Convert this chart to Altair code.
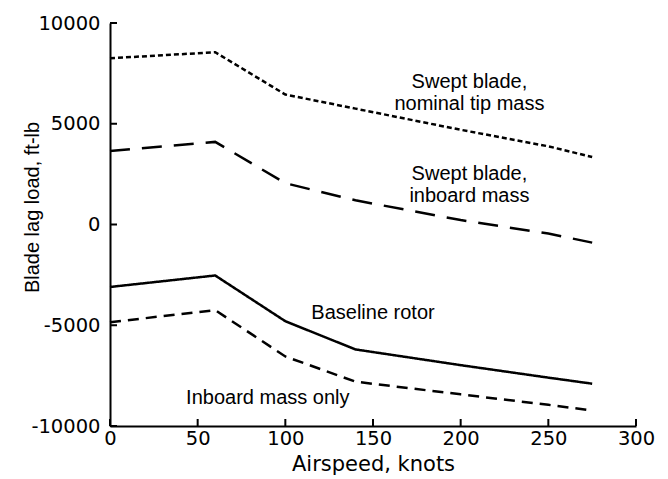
import altair as alt
import pandas as pd

# ---- data ----
airspeed = [0, 60, 100, 140, 200, 250, 275]
nominal_tip = [8250, 8550, 6450, 5750, 4700, 3880, 3350]
swept_inboard = [3650, 4100, 2050, 1200, 220, -450, -900]
baseline = [-3100, -2530, -4800, -6200, -6980, -7600, -7900]
inboard_only = [-4850, -4250, -6550, -7800, -8430, -8950, -9230]

series_names = ["Swept blade, nominal tip mass", "Swept blade, inboard mass",
                "Baseline rotor", "Inboard mass only"]
series_values = [nominal_tip, swept_inboard, baseline, inboard_only]

x_ticks = [0, 50, 100, 150, 200, 250, 300]
y_ticks = [-10000, -5000, 0, 5000, 10000]

ann_text = ["Swept blade,", "nominal tip mass", "Swept blade,", "inboard mass",
            "Baseline rotor", "Inboard mass only"]
ann_x = [205, 205, 205, 205, 150, 90]
ann_y = [7070, 6000, 2500, 1400, -4390, -8590]

# ---- tables ----
rows = []
for name, vals in zip(series_names, series_values):
    for a, v in zip(airspeed, vals):
        rows.append({"series": name, "airspeed": a, "load": v})
df = pd.DataFrame(rows)
ann = pd.DataFrame({"text": ann_text, "airspeed": ann_x, "load": ann_y})
xt = pd.DataFrame({"v": x_ticks})
yt = pd.DataFrame({"v": y_ticks})

SANS = "Liberation Sans"
WIDE = "DejaVu Sans"
W, H = 526, 403

xscale = alt.Scale(domain=[0, 300], nice=False, zero=False)
yscale = alt.Scale(domain=[-10000, 10000], nice=False, zero=False)

xaxis = alt.Axis(values=x_ticks, title="Airspeed, knots", grid=False, tickSize=0,
                 labelExpr="'' + datum.value",
                 labelPadding=3, labelFontSize=19.5, titleFontSize=21,
                 labelFont=WIDE, titleFont=WIDE, labelColor="black", titleColor="black",
                 titleFontWeight="normal", domainColor="black", domainWidth=2,
                 titleBaseline="alphabetic", titleY=44, labelFlush=False)
yaxis = alt.Axis(values=y_ticks, title="Blade lag load, ft-lb", grid=False, tickSize=0,
                 labelExpr="'' + datum.value",
                 labelPadding=10, labelFontSize=19.5, titleFontSize=20,
                 labelFont=WIDE, titleFont=SANS, labelColor="black", titleColor="black",
                 titleFontWeight="normal", domainColor="black", domainWidth=2,
                 titleAngle=-90, titleBaseline="middle", titleAlign="center",
                 titleX=-78, titleY=184, labelFlush=False)

lines = alt.Chart(df).mark_line(color="black", strokeWidth=2.5).encode(
    x=alt.X("airspeed:Q", scale=xscale, axis=xaxis),
    y=alt.Y("load:Q", scale=yscale, axis=yaxis),
    strokeDash=alt.StrokeDash("series:N",
                              scale=alt.Scale(domain=series_names,
                                              range=[[5, 3], [20, 12], [1, 0], [11, 7]]),
                              legend=None),
    detail="series:N",
)

labels = alt.Chart(ann).mark_text(font=SANS, fontSize=20, color="black",
                                  align="center", baseline="middle").encode(
    x=alt.X("airspeed:Q", scale=xscale),
    y=alt.Y("load:Q", scale=yscale),
    text="text:N",
)

xtick_marks = alt.Chart(xt).mark_rule(color="black", strokeWidth=2).encode(
    x=alt.X("v:Q", scale=xscale),
    y=alt.value(H),
    y2=alt.value(H - 7),
)
ytick_marks = alt.Chart(yt).mark_rule(color="black", strokeWidth=2).encode(
    y=alt.Y("v:Q", scale=yscale),
    x=alt.value(0),
    x2=alt.value(7),
)

chart = alt.layer(lines, labels, xtick_marks, ytick_marks).properties(
    width=W, height=H,
    autosize=alt.AutoSizeParams(type="none"),
    padding={"left": 102, "top": 15, "right": 24, "bottom": 50},
    background="white",
).configure_view(stroke=None)

chart.save("out.html", embed_options={"renderer": "svg", "actions": False})
